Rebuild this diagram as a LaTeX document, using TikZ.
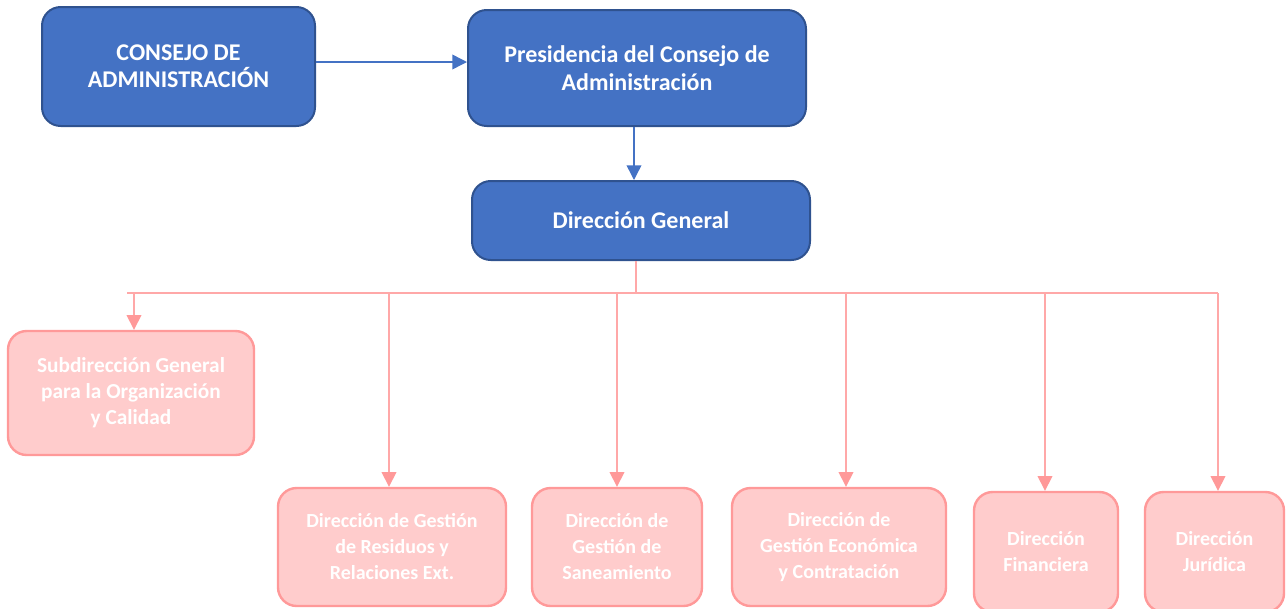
\documentclass[tikz,border=0pt]{standalone}
\usepackage{fontspec}
\setmainfont{Carlito}
\usetikzlibrary{arrows.meta}
\definecolor{bfill}{HTML}{4472C4}
\definecolor{bdraw}{HTML}{2F528F}
\definecolor{pfill}{HTML}{FFCCCC}
\definecolor{pdraw}{HTML}{FF9999}
\definecolor{pline}{HTML}{FFA8A8}
\begin{document}
\begin{tikzpicture}[x=0.75pt,y=-0.75pt,
 bluebox/.style={draw=bdraw, fill=bfill, line width=1.5pt, rounded corners=14pt, text=white,
   font=\bfseries\fontsize{18}{20.5}\selectfont, align=center, inner sep=0pt},
 pinkbox/.style={draw=pdraw, fill=pfill, line width=1.8pt, rounded corners=14pt, text=white,
   font=\bfseries\fontsize{15}{19.5}\selectfont, align=center, inner sep=0pt},
 barrow/.style={draw=bfill, line width=1.1pt, -{Triangle[width=11pt,length=11pt]}},
 pline/.style={draw=pline, line width=1.1pt},
 parrow/.style={draw=pline, line width=1.1pt, -{Triangle[width=11pt,length=11pt,color=pdraw]}},
]
\useasboundingbox (0,0) rectangle (1286,608);
\node[bluebox, minimum width=204.75pt, minimum height=89.25pt] (cons) at (178.5,66.5) {CONSEJO DE\\ADMINISTRACIÓN};
\node[bluebox, minimum width=253.5pt, minimum height=87pt] (pres) at (637,68) {Presidencia del Consejo de\\Administración};
\node[bluebox, minimum width=253.5pt, minimum height=59.25pt] (dg) at (641,220.5) {Dirección General};
\node[pinkbox, font=\bfseries\fontsize{16}{19.5}\selectfont, minimum width=184.5pt, minimum height=93pt] (sub) at (131,393) {Subdirección General\\para la Organización\\y Calidad};
\node[pinkbox, minimum width=171pt, minimum height=88.5pt] (res) at (392,547) {Dirección de Gestión\\de Residuos y\\Relaciones Ext.};
\node[pinkbox, minimum width=127.5pt, minimum height=88.5pt] (san) at (617,547) {Dirección de\\Gestión de\\Saneamiento};
\node[pinkbox, minimum width=160.5pt, minimum height=88.5pt] (eco) at (839,547) {Dirección de\\Gestión Económica\\y Contratación};
\node[pinkbox, minimum width=108pt, minimum height=90pt] (fin) at (1046,552) {Dirección\\Financiera};
\node[pinkbox, minimum width=104.25pt, minimum height=90pt] (jur) at (1214.5,552) {Dirección\\Jurídica};
\coordinate (j) at (636,293);
\coordinate (busL) at (127,293);
\coordinate (busR) at (1218,293);
\draw[barrow] (cons.east |- 0,62) -- (pres.west |- 0,62);
\draw[barrow] (pres.south -| 634,0) -- (dg.north -| 634,0);
\draw[pline] (dg.south -| j) -- (j);
\draw[pline] (busL) -- (busR);
\draw[parrow] (busL -| 134,0) -- (sub.north -| 134,0);
\draw[parrow] (busL -| 389,0) -- (res.north -| 389,0);
\draw[parrow] (busL -| 617,0) -- (san.north -| 617,0);
\draw[parrow] (busL -| 846,0) -- (eco.north -| 846,0);
\draw[parrow] (busL -| 1045,0) -- (fin.north -| 1045,0);
\draw[parrow] (busR) -- (jur.north -| busR);
\end{tikzpicture}
\end{document}
